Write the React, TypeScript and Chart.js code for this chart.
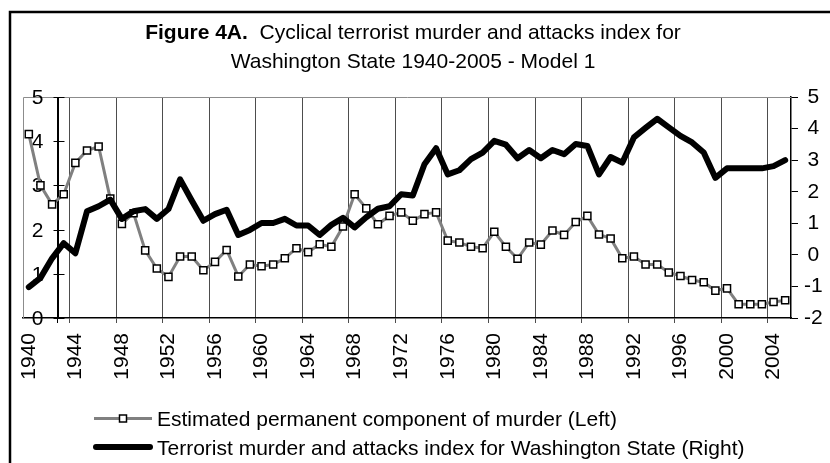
import React, { useEffect, useRef } from 'react';
import { Chart, registerables } from 'chart.js';

Chart.register(...registerables);

const years = [
  '1940', '1941', '1942', '1943', '1944', '1945', '1946', '1947', '1948', '1949',
  '1950', '1951', '1952', '1953', '1954', '1955', '1956', '1957', '1958', '1959',
  '1960', '1961', '1962', '1963', '1964', '1965', '1966', '1967', '1968', '1969',
  '1970', '1971', '1972', '1973', '1974', '1975', '1976', '1977', '1978', '1979',
  '1980', '1981', '1982', '1983', '1984', '1985', '1986', '1987', '1988', '1989',
  '1990', '1991', '1992', '1993', '1994', '1995', '1996', '1997', '1998', '1999',
  '2000', '2001', '2002', '2003', '2004', '2005',
];

const xTickLabels = [
  '1940', '1944', '1948', '1952', '1956', '1960', '1964', '1968', '1972',
  '1976', '1980', '1984', '1988', '1992', '1996', '2000', '2004',
];

const leftTicks = [0, 1, 2, 3, 4, 5];

// Estimated permanent component of murder (left axis)
const murderPermanent = [
  4.16, 3.0, 2.57, 2.8, 3.51, 3.79, 3.88, 2.7, 2.13, 2.37,
  1.53, 1.12, 0.93, 1.39, 1.39, 1.08, 1.27, 1.54, 0.94, 1.21,
  1.17, 1.21, 1.35, 1.58, 1.49, 1.67, 1.61, 2.07, 2.8, 2.48,
  2.12, 2.31, 2.39, 2.2, 2.35, 2.39, 1.75, 1.71, 1.61, 1.58,
  1.95, 1.61, 1.34, 1.71, 1.66, 1.98, 1.88, 2.17, 2.31, 1.89,
  1.8, 1.35, 1.39, 1.21, 1.21, 1.03, 0.95, 0.86, 0.81, 0.62,
  0.67, 0.31, 0.31, 0.31, 0.36, 0.4,
];

// Terrorist murder and attacks index (right axis)
const terrorIndex = [
  -1.02, -0.73, -0.11, 0.37, 0.05, 1.38, 1.54, 1.75, 1.14, 1.38,
  1.45, 1.14, 1.45, 2.39, 1.72, 1.08, 1.29, 1.43, 0.63, 0.79,
  1.01, 1.01, 1.14, 0.93, 0.93, 0.63, 0.95, 1.17, 0.87, 1.19,
  1.46, 1.54, 1.92, 1.88, 2.87, 3.38, 2.55, 2.68, 3.03, 3.24,
  3.61, 3.49, 3.06, 3.32, 3.06, 3.32, 3.19, 3.51, 3.45, 2.55,
  3.1, 2.92, 3.72, 4.02, 4.31, 4.04, 3.77, 3.56, 3.24, 2.44,
  2.74, 2.74, 2.74, 2.74, 2.81, 3.0,
];

const titleBold = 'Figure 4A.';
const titleRest = '  Cyclical terrorist murder and attacks index for';
const titleLine2 = 'Washington State 1940-2005 - Model 1';
const seriesLeftLabel = 'Estimated permanent component of murder (Left)';
const seriesRightLabel = 'Terrorist murder and attacks index for Washington State (Right)';

// left value axis crosses the category axis between 1942 and 1943
const leftAxisCrossIndex = 2.5;

const FONT = '"Liberation Sans", Arial, Helvetica, sans-serif';

const decorPlugin = {
  id: 'decor',
  beforeDatasetsDraw(chart: any) {
    const { ctx, chartArea: a, scales } = chart;
    const xs = scales.x;
    const ys = scales.y;
    ctx.save();
    // plot area border (top and left), grey
    ctx.strokeStyle = '#8c8c8c';
    ctx.lineWidth = 1;
    ctx.beginPath();
    ctx.moveTo(Math.round(a.left) + 0.5, a.bottom);
    ctx.lineTo(Math.round(a.left) + 0.5, Math.round(a.top) + 0.5);
    ctx.lineTo(a.right, Math.round(a.top) + 0.5);
    ctx.stroke();

    // left value axis
    const ax = Math.round(xs.getPixelForValue(leftAxisCrossIndex)) + 0.5;
    ctx.strokeStyle = '#000';
    ctx.lineWidth = 1;
    ctx.beginPath();
    ctx.moveTo(ax, a.top);
    ctx.lineTo(ax, a.bottom);
    ctx.stroke();
    ctx.font = `21px ${FONT}`;
    ctx.fillStyle = '#000';
    ctx.textAlign = 'right';
    ctx.textBaseline = 'middle';
    leftTicks.forEach((v) => {
      const y = Math.round(ys.getPixelForValue(v)) + 0.5;
      ctx.beginPath();
      ctx.moveTo(ax - 5, y);
      ctx.lineTo(ax + 6, y);
      ctx.stroke();
      ctx.fillText(String(v), ax - 15, y + 1);
    });
    ctx.restore();
  },
  afterDraw(chart: any) {
    const { ctx } = chart;
    ctx.save();
    // title
    ctx.fillStyle = '#000';
    ctx.textBaseline = 'alphabetic';
    ctx.font = `bold 21px ${FONT}`;
    const w1 = ctx.measureText(titleBold).width;
    ctx.font = `21px ${FONT}`;
    const w2 = ctx.measureText(titleRest).width;
    const cx = 413;
    const start = cx - (w1 + w2) / 2;
    ctx.textAlign = 'left';
    ctx.font = `bold 21px ${FONT}`;
    ctx.fillText(titleBold, start, 39);
    ctx.font = `21px ${FONT}`;
    ctx.fillText(titleRest, start + w1, 39);
    ctx.textAlign = 'center';
    ctx.fillText(titleLine2, cx, 68);

    // legend
    ctx.textAlign = 'left';
    ctx.lineCap = 'butt';
    ctx.strokeStyle = '#808080';
    ctx.lineWidth = 3;
    ctx.beginPath();
    ctx.moveTo(94, 418.5);
    ctx.lineTo(152, 418.5);
    ctx.stroke();
    ctx.fillStyle = '#fff';
    ctx.fillRect(119.5, 415, 7, 7);
    ctx.strokeStyle = '#000';
    ctx.lineWidth = 1.5;
    ctx.strokeRect(119.5, 415, 7, 7);
    ctx.fillStyle = '#000';
    ctx.font = `21px ${FONT}`;
    ctx.fillText(seriesLeftLabel, 157, 426);

    ctx.strokeStyle = '#000';
    ctx.lineWidth = 6;
    ctx.lineCap = 'round';
    ctx.beginPath();
    ctx.moveTo(96, 447);
    ctx.lineTo(150, 447);
    ctx.stroke();
    ctx.fillText(seriesRightLabel, 157, 455);

    // outer frame
    ctx.lineCap = 'butt';
    ctx.strokeStyle = '#000';
    ctx.lineWidth = 2.5;
    ctx.strokeRect(10, 12, 900, 600);
    ctx.restore();
  },
};

function gridColor(index: number): string {
  if (index === 3) return '#000';
  if (index > 0 && index % 4 === 0 && index < years.length) return '#4d4d4d';
  return 'rgba(0,0,0,0)';
}

export default function App() {
  const canvasRef = useRef<HTMLCanvasElement | null>(null);

  useEffect(() => {
    document.body.style.margin = '0';
    const canvas = canvasRef.current;
    if (!canvas) return;
    const chart = new Chart(canvas, {
      type: 'line',
      data: {
        labels: years,
        datasets: [
          {
            label: seriesLeftLabel,
            data: murderPermanent,
            yAxisID: 'y',
            borderColor: '#808080',
            borderWidth: 3,
            pointStyle: 'rect',
            pointRadius: 5,
            pointBackgroundColor: '#fff',
            pointBorderColor: '#000',
            pointBorderWidth: 1.5,
            tension: 0,
            order: 1,
          },
          {
            label: seriesRightLabel,
            data: terrorIndex,
            yAxisID: 'y1',
            borderColor: '#000',
            borderWidth: 6,
            pointRadius: 0,
            borderJoinStyle: 'round',
            borderCapStyle: 'round',
            tension: 0,
            order: 0,
          },
        ],
      },
      options: {
        animation: false,
        responsive: false,
        maintainAspectRatio: false,
        layout: { padding: { left: 23, top: 97, right: 0, bottom: 0 } },
        plugins: {
          legend: { display: false },
          title: { display: false },
          tooltip: { enabled: false },
        },
        scales: {
          x: {
            type: 'category',
            offset: true,
            grid: {
              offset: true,
              color: (c: any) => gridColor(c.index),
              tickColor: (c: any) => gridColor(c.index),
              lineWidth: 1,
              tickLength: 5,
            },
            border: { color: '#000', width: 1.5 },
            ticks: {
              autoSkip: false,
              minRotation: 90,
              maxRotation: 90,
              padding: 10,
              color: '#000',
              font: { family: FONT, size: 21 },
              callback: (_v: any, index: number) =>
                xTickLabels.includes(years[index]) ? years[index] : '',
            },
            afterFit: (s: any) => {
              s.height = 145;
            },
          },
          y: { display: false, min: 0, max: 5 },
          y1: {
            position: 'right',
            min: -2,
            max: 5,
            ticks: {
              stepSize: 1,
              color: '#000',
              padding: 6,
              crossAlign: 'center',
              font: { family: FONT, size: 21 },
            },
            grid: { drawOnChartArea: false, tickLength: 7, color: '#000' },
            border: { color: '#000', width: 1.5 },
            afterFit: (s: any) => {
              s.width = 39;
            },
          },
        },
      } as any,
      plugins: [decorPlugin],
    });
    return () => chart.destroy();
  }, []);

  return <canvas ref={canvasRef} width={830} height={463} style={{ display: 'block' }} />;
}
